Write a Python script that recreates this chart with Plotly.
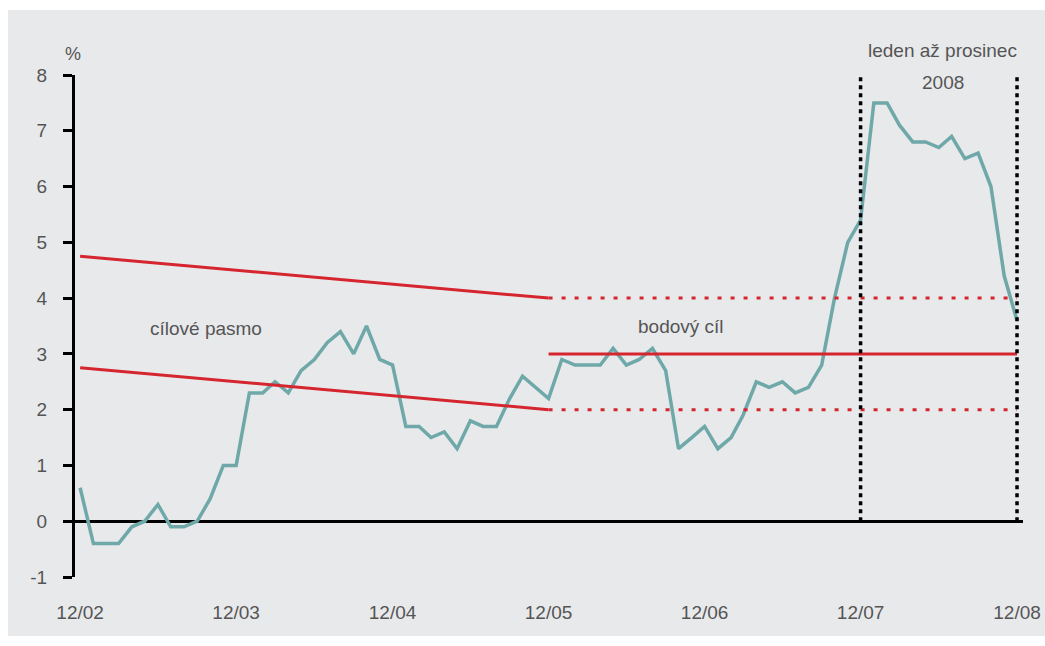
import pandas as pd
import plotly.graph_objects as go

# Monthly year-on-year CPI inflation, 12/2002 - 12/2008 (%)
months = pd.date_range("2002-12-01", "2008-12-01", freq="MS")
inflation = [
    0.6,
    -0.4, -0.4, -0.4, -0.1, 0.0, 0.3, -0.1, -0.1, 0.0, 0.4, 1.0, 1.0,
    2.3, 2.3, 2.5, 2.3, 2.7, 2.9, 3.2, 3.4, 3.0, 3.5, 2.9, 2.8,
    1.7, 1.7, 1.5, 1.6, 1.3, 1.8, 1.7, 1.7, 2.2, 2.6, 2.4, 2.2,
    2.9, 2.8, 2.8, 2.8, 3.1, 2.8, 2.9, 3.1, 2.7, 1.3, 1.5, 1.7,
    1.3, 1.5, 1.9, 2.5, 2.4, 2.5, 2.3, 2.4, 2.8, 4.0, 5.0, 5.4,
    7.5, 7.5, 7.1, 6.8, 6.8, 6.7, 6.9, 6.5, 6.6, 6.0, 4.4, 3.6,
]

# Declining target band (cílové pásmo)
band_dates = ["2002-12-01", "2005-12-01"]
band_upper = [4.75, 4.0]
band_lower = [2.75, 2.0]

# Point target with tolerance band (bodový cíl)
point_dates = ["2005-12-01", "2008-12-01"]
point_target = [3.0, 3.0]
tolerance_upper = [4.0, 4.0]
tolerance_lower = [2.0, 2.0]

# Highlighted period: January to December 2008
period_marks = ["2007-12-01", "2008-12-01"]
period_span = [0, 8]

year_ticks = pd.date_range("2002-12-01", "2008-12-01", freq="12MS")
y_ticks = list(range(-1, 9))
y_tick_text = [str(v) for v in y_ticks]

RED = "#d5262f"
TEAL = "#6fa8a9"
TEXT = "#555555"
FONT = "Liberation Sans, Arial, sans-serif"

fig = go.Figure()

fig.add_trace(go.Scatter(
    x=months, y=inflation, mode="lines",
    line=dict(color=TEAL, width=3.5), hoverinfo="skip",
))

for ys in (band_upper, band_lower):
    fig.add_trace(go.Scatter(
        x=band_dates, y=ys, mode="lines",
        line=dict(color=RED, width=3), hoverinfo="skip",
    ))

for ys in (tolerance_upper, tolerance_lower):
    fig.add_trace(go.Scatter(
        x=point_dates, y=ys, mode="lines",
        line=dict(color=RED, width=3, dash="4px,9px"), hoverinfo="skip",
    ))

fig.add_trace(go.Scatter(
    x=point_dates, y=point_target, mode="lines",
    line=dict(color=RED, width=3), hoverinfo="skip",
))

for d in period_marks:
    fig.add_trace(go.Scatter(
        x=[d, d], y=period_span, mode="lines",
        line=dict(color="black", width=3.5, dash="4px,4px"), hoverinfo="skip",
    ))

# light grey panel behind the chart
fig.add_shape(
    type="rect", xref="paper", yref="paper",
    x0=-0.0707, x1=1.03, y0=-0.1175, y1=1.1295,
    fillcolor="#e8e9eb", line=dict(width=0), layer="below",
)

def label(text, x, y, yref="y"):
    fig.add_annotation(
        text=text, x=x, y=y, xref="x", yref=yref, showarrow=False,
        xanchor="center", yanchor="middle",
        font=dict(family=FONT, size=19, color=TEXT),
    )

label("cílové pasmo", "2003-09-21", 3.45)
label("bodový cíl", "2006-10-07", 3.5)
label("leden až prosinec", "2008-06-10", 1.0498, yref="paper")
label("2008", "2008-06-10", 0.986, yref="paper")
fig.add_annotation(
    text="%", x=-0.002, y=1.042, xref="paper", yref="paper", showarrow=False,
    xanchor="center", yanchor="middle",
    font=dict(family=FONT, size=18, color=TEXT),
)

fig.update_layout(
    width=1045, height=646, autosize=False,
    margin=dict(l=75, r=22, t=75, b=69),
    paper_bgcolor="white", plot_bgcolor="rgba(0,0,0,0)",
    showlegend=False,
    font=dict(family=FONT, size=19, color=TEXT),
)

fig.update_xaxes(
    type="date", range=["2002-11-19", "2008-12-15"],
    tickvals=year_ticks, tickformat="%m/%y",
    showline=False, showgrid=False, zeroline=False, ticks="",
    ticklabelstandoff=22, automargin=False,
    tickfont=dict(family=FONT, size=19, color=TEXT),
)

fig.update_yaxes(
    range=[-1, 8], tickvals=y_ticks, ticktext=y_tick_text,
    showline=True, linecolor="black", linewidth=3,
    ticks="outside", ticklen=9, tickwidth=3, tickcolor="black",
    showgrid=False, zeroline=True, zerolinecolor="black", zerolinewidth=3,
    ticklabelstandoff=12, automargin=False,
    tickfont=dict(family=FONT, size=19, color=TEXT),
)

fig.write_html("out.html")
